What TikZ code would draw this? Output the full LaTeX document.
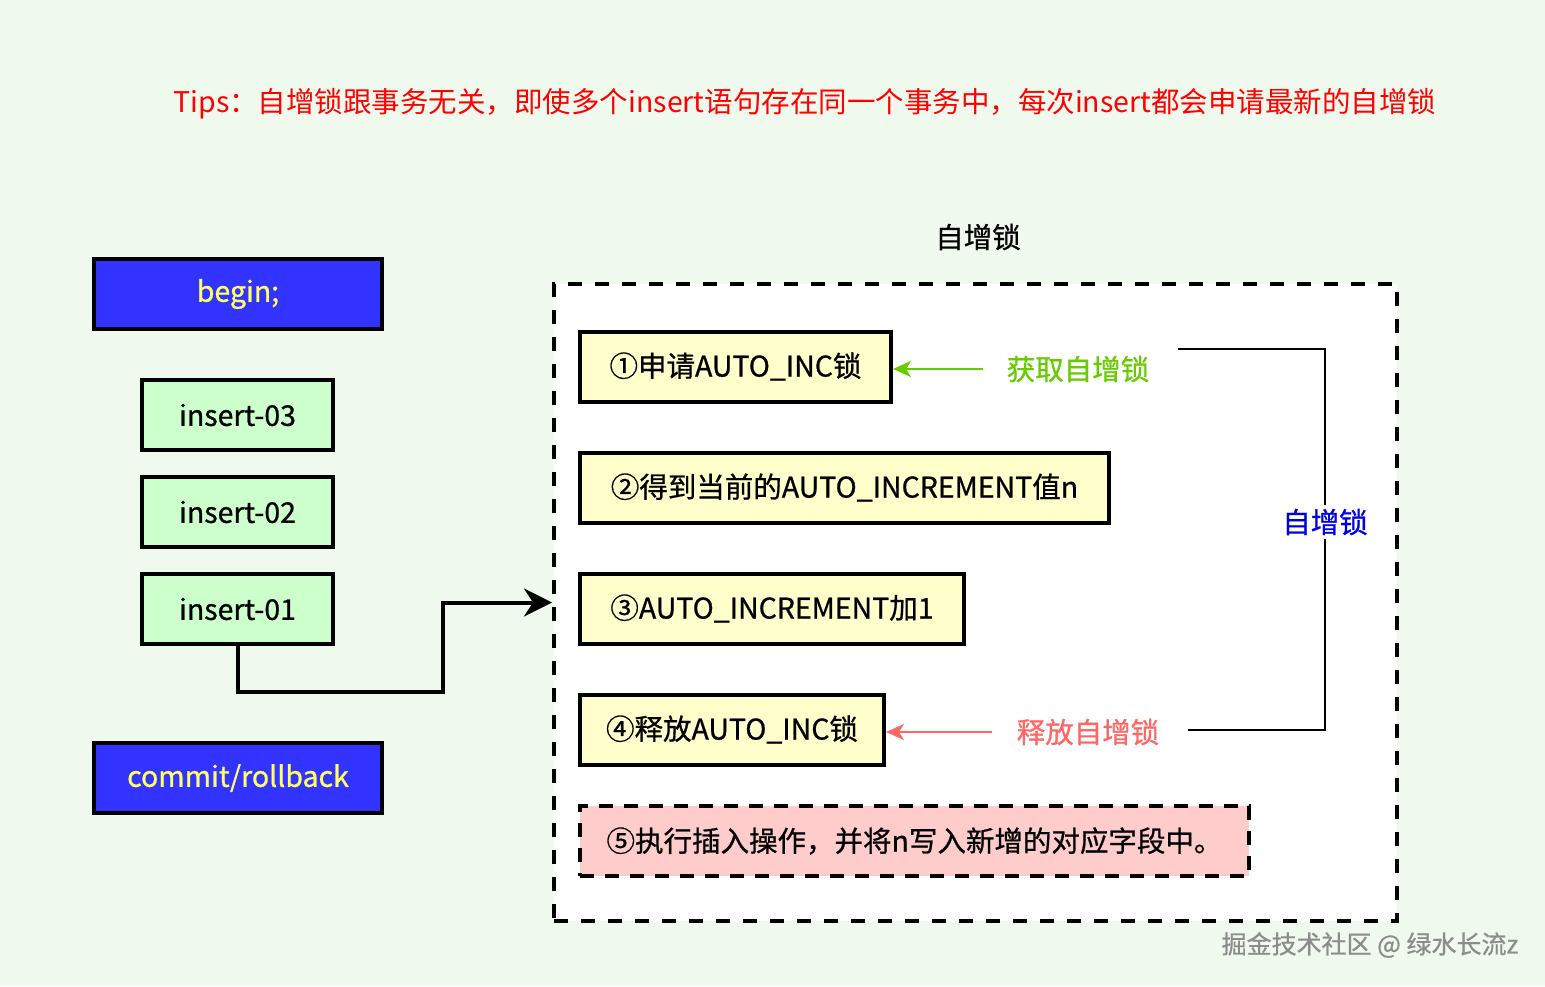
\documentclass[tikz,border=0pt]{standalone}
\usepackage{fontspec}
\setmainfont{Noto Sans CJK SC}
\newfontfamily\medfont{Noto Sans CJK SC}[FakeBold=0.8]
\usepackage{tikz}
\usepackage{xcolor}
\usetikzlibrary{arrows.meta, positioning, calc}

\definecolor{bgcol}{RGB}{240,249,237}
\definecolor{bluefill}{RGB}{51,51,255}
\definecolor{beginyel}{RGB}{255,255,102}
\definecolor{greenfill}{RGB}{204,255,204}
\definecolor{yelfill}{RGB}{255,255,204}
\definecolor{pinkfill}{RGB}{255,204,204}
\definecolor{getgreen}{RGB}{102,204,0}
\definecolor{relred}{RGB}{255,102,102}
\definecolor{lockblue}{RGB}{0,0,230}

\tikzset{
  txt/.style={font=\medfont\fontsize{28.5}{32}\selectfont},
  trxbox/.style={draw, line width=4pt, fill=bluefill, text=beginyel, txt, minimum width=288pt, minimum height=70pt},
  insbox/.style={draw, line width=4pt, fill=greenfill, txt, minimum width=191pt, minimum height=70pt},
  stepbox/.style={draw, line width=4pt, fill=yelfill, txt, minimum height=70pt, anchor=west},
  flow/.style={line width=4pt, -{Stealth[length=28pt, width=28pt, inset=9pt]}},
}

\begin{document}
\begin{tikzpicture}[x=1pt, y=-1pt]
% canvas
\fill[bgcol] (0,0) rectangle (1545,986);
\useasboundingbox (0,0) rectangle (1545,986);

% Tips line
\node[anchor=west, text=red, font=\fontsize{28.5}{32}\selectfont] (tips) at (170,104)
  {Tips：自增锁跟事务无关，即使多个insert语句存在同一个事务中，每次insert都会申请最新的自增锁};

% transaction on the left
\node[trxbox] (begin) at (238,294) {begin;};
\node[insbox] (i3) at (237.5,415) {insert-03};
\node[insbox] (i2) at (237.5,512) {insert-02};
\node[insbox] (i1) at (237.5,609) {insert-01};
\node[trxbox] (commit) at (238,778) {commit/rollback};

% auto-inc lock frame
\node[draw, fill=white, line width=4pt, dash pattern=on 14pt off 13pt, minimum width=843pt, minimum height=637pt] (frame) at (975.5,602.5) {};
\node[txt] (title) at (978,237) {自增锁};

% steps
\node[stepbox, minimum width=311pt] (s1) at (578,366.5) {①申请AUTO\_INC锁};
\node[stepbox, minimum width=529pt] (s2) at (578,487.5) {②得到当前的AUTO\_INCREMENT值n};
\node[stepbox, minimum width=384pt] (s3) at (578,608.5) {③AUTO\_INCREMENT加1};
\node[stepbox, minimum width=304pt] (s4) at (578,729.5) {④释放AUTO\_INC锁};
\node[stepbox, fill=pinkfill, dash pattern=on 14pt off 11pt, minimum width=669pt] (s5) at (578,841) {⑤执行插入操作，并将n写入新增的对应字段中。};

% get / release
\node[txt, text=getgreen, inner sep=0pt] (get) at (1078,369) {获取自增锁};
\node[txt, text=relred, inner sep=0pt] (rel) at (1088,732) {释放自增锁};
\draw[getgreen, line width=2pt, -{Stealth[length=18pt, width=16pt, inset=5pt]}, shorten <=24pt] (get.west) -- (get.west -| s1.east);
\draw[relred, line width=2pt, -{Stealth[length=18pt, width=16pt, inset=5pt]}, shorten <=25pt] (rel.west) -- (rel.west -| s4.east);

% bracket
\coordinate (brt) at (1178,349);
\coordinate (brb) at (1188,730);
\node[txt, text=lockblue, fill=white, inner sep=4pt] (lock) at (1325,522) {自增锁};
\draw[line width=2pt] (brt) -| (lock.north);
\draw[line width=2pt] (lock.south) |- (brb);

% insert-01 into the frame
\coordinate (bend) at (443,692);
\draw[flow] (i1.south) |- (bend) |- (frame.west);

% watermark
\node[text=gray!90, font=\medfont\fontsize{25}{28}\selectfont] (mark) at (1370,945) {掘金技术社区 @ 绿水长流z};
\end{tikzpicture}
\end{document}
